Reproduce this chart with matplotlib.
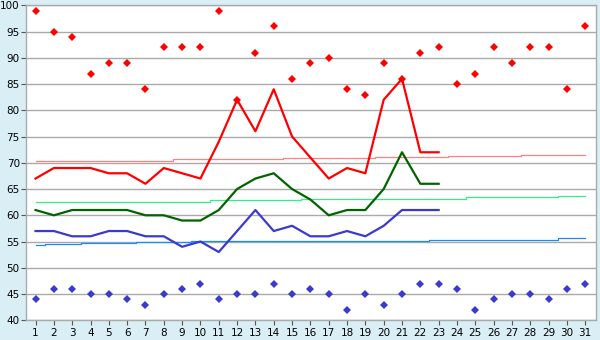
import matplotlib
matplotlib.use("Agg")
import matplotlib.pyplot as plt
import numpy as np

days = list(range(1, 32))
day_ticks = [str(d) for d in days]
y_ticks = list(range(40, 101, 5))

# extremes (diamonds)
max_temp = [99, 95, 94, 87, 89, 89, 84, 92, 92, 92, 99, 82, 91, 96, 86, 89, 90, 84, 83, 89,
            86, 91, 92, 85, 87, 92, 89, 92, 92, 84, 96]
min_temp = [44, 46, 46, 45, 45, 44, 43, 45, 46, 47, 44, 45, 45, 47, 45, 46, 45, 42, 45, 43,
            45, 47, 47, 46, 42, 44, 45, 45, 44, 46, 47]

# observed lines (days 1-23)
line_days = list(range(1, 24))
red_line = [67, 69, 69, 69, 68, 68, 66, 69, 68, 67, 74, 82, 76, 84, 75, 71, 67, 69, 68, 82, 86, 72, 72]
green_line = [61, 60, 61, 61, 61, 61, 60, 60, 59, 59, 61, 65, 67, 68, 65, 63, 60, 61, 61, 65, 72, 66, 66]
blue_line = [57, 57, 56, 56, 57, 57, 56, 56, 54, 55, 53, 57, 61, 57, 58, 56, 56, 57, 56, 58, 61, 61, 61]

# normals (thin step lines)
norm_high = [70.4]*8 + [70.7]*6 + [70.9]*5 + [71.15]*4 + [71.3]*4 + [71.45]*4
norm_mid = [62.47]*5 + [62.62]*5 + [62.85]*5 + [63.04]*5 + [63.15]*4 + [63.4]*5 + [63.65]*2
norm_low = [54.28]*1 + [54.47]*2 + [54.71]*3 + [54.9]*3 + [55.04]*8 + [55.15]*5 + [55.34]*7 + [55.6]*2

bg = "#d9eef5"
fig = plt.figure(figsize=(6, 3.4), dpi=100, facecolor=bg)
ax = fig.add_axes([26/600, 1-320.3/340, (595.7-26)/600, (320.3-5.25)/340])
ax.set_facecolor("white")

ax.set_xlim(0.48, 31.57)
ax.set_ylim(40, 100)
ax.set_yticks(y_ticks)
ax.set_xticks(days)
ax.set_xticklabels(day_ticks)
ax.grid(axis="y", color="#aaaaaa", linewidth=1.0)
ax.set_axisbelow(True)
for s in ax.spines.values():
    s.set_color("#aaaaaa")
    s.set_linewidth(1.0)
ax.tick_params(axis="both", colors="#555555", labelcolor="black", labelsize=7.5, length=3.5, width=0.8)
ax.tick_params(axis="x", pad=2)
ax.tick_params(axis="y", pad=1)

ax.plot(days, norm_high, drawstyle="steps-mid", color="#ff8080", lw=0.9)
ax.plot(days, norm_mid, drawstyle="steps-mid", color="#33ee88", lw=0.9)
ax.plot(days, norm_low, drawstyle="steps-mid", color="#1e88ff", lw=0.9)

ax.plot(line_days, red_line, color="#ff0000", lw=1.6)
ax.plot(line_days, green_line, color="#006400", lw=1.6)
ax.plot(line_days, blue_line, color="#3a3acd", lw=1.6)

ax.plot(days, max_temp, "D", color="#ff0000", ms=3.8, mew=0)
ax.plot(days, min_temp, "D", color="#3a3acd", ms=3.8, mew=0)

fig.savefig("out.png", dpi=100, facecolor=bg)
